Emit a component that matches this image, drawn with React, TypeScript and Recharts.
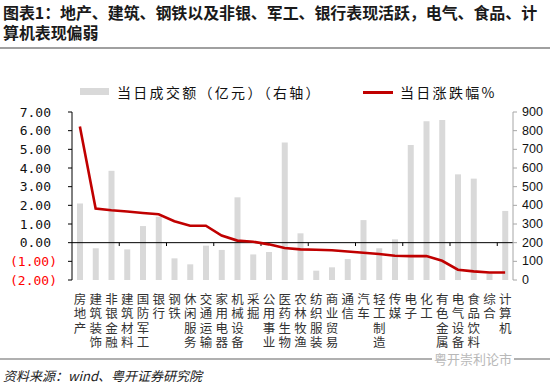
import { ComposedChart, Bar, Line, XAxis, YAxis, ReferenceLine } from 'recharts'

const categories = [
  '房地产', '建筑装饰', '非银金融', '建筑材料', '国防军工', '银行', '钢铁', '休闲服务',
  '交通运输', '家用电器', '机械设备', '采掘', '公用事业', '医药生物', '农林牧渔', '纺织服装',
  '商业贸易', '通信', '汽车', '轻工制造', '传媒', '电子', '化工', '有色金属',
  '电气设备', '食品饮料', '综合', '计算机',
]
// 当日成交额（亿元），右轴
const turnover = [
  410, 170, 585, 164, 289, 339, 116, 84,
  184, 161, 443, 137, 150, 736, 250, 50,
  68, 112, 321, 170, 218, 723, 850, 857,
  566, 543, 35, 370,
]
// 当日涨跌幅%，左轴
const change = [
  6.22, 1.83, 1.74, 1.67, 1.59, 1.52, 1.15, 0.91,
  0.91, 0.38, 0.11, 0.05, -0.09, -0.29, -0.36, -0.38,
  -0.41, -0.47, -0.54, -0.61, -0.70, -0.72, -0.72, -0.97,
  -1.45, -1.54, -1.60, -1.60,
]
const leftTicks = [-2, -1, 0, 1, 2, 3, 4, 5, 6, 7]
const rightTicks = [0, 100, 200, 300, 400, 500, 600, 700, 800, 900]
// 零轴上的刻度，每三个行业一个
const zeroTicks = [3, 6, 9, 12, 15, 18, 21, 24, 27]

const data = categories.map((name, i) => ({ idx: i, name, turnover: turnover[i], change: change[i] }))

const CJK = '"Noto Sans CJK SC", "Noto Sans", sans-serif'
const RED = '#c00000'
const BAR = '#d9d9d9'

const titleStyle = {
  position: 'absolute' as const, left: 3, fontFamily: CJK, fontWeight: 700, fontSize: 16,
  lineHeight: '19px', height: 19, color: '#1a1a1a', whiteSpace: 'nowrap' as const, letterSpacing: -0.1,
}

// 竖排行业名
function CatTick({ x, payload }: any) {
  return (
    <text x={x} y={293} textAnchor="start" fontSize={12.5} fill="#333" fontFamily={CJK}
      style={{ writingMode: 'vertical-rl', letterSpacing: 1.8 }}>
      {payload.value}
    </text>
  )
}

function LeftTick({ y, payload }: any) {
  const v = payload.value as number
  const neg = v < 0
  const label = neg ? `(${Math.abs(v).toFixed(2)})` : v.toFixed(2)
  return (
    <text x={neg ? 57 : 51} y={y} textAnchor="end" dominantBaseline="central"
      fontSize={13} fontFamily='"DejaVu Sans Mono", monospace' fill={neg ? '#ff0000' : '#111'}>
      {label}
    </text>
  )
}

function RightTick({ y, payload }: any) {
  return (
    <text x={522} y={y} textAnchor="start" dominantBaseline="central"
      fontSize={12.5} fontFamily='"Liberation Sans", Arial, sans-serif' fill="#111">
      {payload.value}
    </text>
  )
}

export default function App() {
  return (
    <div style={{ position: 'absolute', left: 0, top: 0, width: 550, height: 386, background: '#fff', overflow: 'hidden' }}>
      {/* 标题 */}
      <div style={{ ...titleStyle, top: 3 }}>图表1：地产、建筑、钢铁以及非银、军工、银行表现活跃，电气、食品、计</div>
      <div style={{ ...titleStyle, top: 23 }}>算机表现偏弱</div>
      <div style={{ position: 'absolute', left: 0, top: 47, width: 550, height: 1.5, background: '#a0a0a0' }} />

      {/* 图例 */}
      <div style={{ position: 'absolute', left: 80, top: 88, width: 29, height: 7, background: BAR }} />
      <div style={{ position: 'absolute', left: 117, top: 82, fontFamily: CJK, fontSize: 14, letterSpacing: 2.3, lineHeight: '20px', color: '#111', whiteSpace: 'nowrap' }}>
        当日成交额（亿元）（右轴）
      </div>
      <div style={{ position: 'absolute', left: 363, top: 90.5, width: 30, height: 3, background: RED }} />
      <div style={{ position: 'absolute', left: 400, top: 82, fontFamily: CJK, fontSize: 14, letterSpacing: 2.3, lineHeight: '20px', color: '#111', whiteSpace: 'nowrap' }}>
        当日涨跌幅%
      </div>

      <ComposedChart width={550} height={386} data={data}
        margin={{ top: 112, right: 0, bottom: 26, left: 0 }} style={{ position: 'absolute', left: 0, top: 0 }}>
        <XAxis dataKey="name" xAxisId="c" interval={0} height={80} axisLine={false} tickLine={false} tick={<CatTick />} />
        <XAxis xAxisId="n" type="number" dataKey="idx" domain={[0, 28]} allowDataOverflow hide />
        <YAxis yAxisId="l" orientation="left" domain={[-2, 7]} ticks={leftTicks} interval={0} width={72}
          axisLine={{ stroke: '#000', strokeWidth: 1 }} tickLine={{ stroke: '#000' }} tickSize={4} tick={<LeftTick />} />
        <YAxis yAxisId="r" orientation="right" domain={[0, 900]} ticks={rightTicks} interval={0} width={37}
          axisLine={{ stroke: '#a6a6a6', strokeWidth: 1 }} tickLine={{ stroke: '#a6a6a6' }} tickSize={4} tick={<RightTick />} />
        <Bar dataKey="turnover" xAxisId="c" yAxisId="r" fill={BAR} barSize={6} isAnimationActive={false} />
        <ReferenceLine y={0} xAxisId="c" yAxisId="l" stroke="#000" strokeWidth={1} />
        {zeroTicks.map(t => (
          <ReferenceLine key={t} xAxisId="n" yAxisId="l" stroke="#000" strokeWidth={1}
            segment={[{ x: t, y: 0 }, { x: t, y: -0.18 }]} />
        ))}
        <Line dataKey="change" xAxisId="c" yAxisId="l" type="linear" stroke={RED} strokeWidth={2.6}
          dot={false} activeDot={false} isAnimationActive={false} />
      </ComposedChart>

      {/* 底部 */}
      <div style={{ position: 'absolute', left: 0, top: 358, width: 550, height: 1.5, background: '#b0b0b0' }} />
      <div style={{ position: 'absolute', left: 432, top: 349, fontFamily: CJK, fontSize: 13, color: '#b8b8b8', background: '#fff', padding: '0 2px', whiteSpace: 'nowrap' }}>
        粤开崇利论市
      </div>
      <div style={{ position: 'absolute', left: 3, top: 366, fontFamily: CJK, fontSize: 13, fontStyle: 'italic', color: '#222', whiteSpace: 'nowrap' }}>
        资料来源：wind、粤开证券研究院
      </div>
    </div>
  )
}
